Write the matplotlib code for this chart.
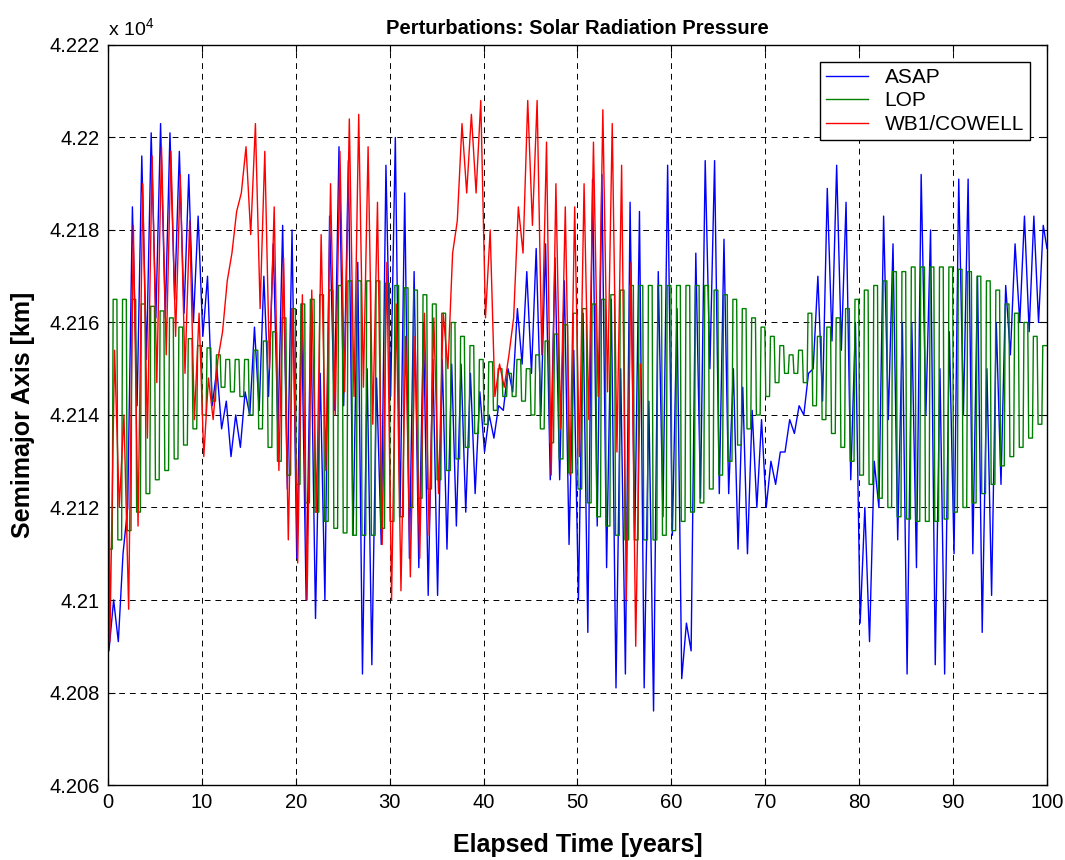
import matplotlib

matplotlib.use("Agg")
import matplotlib.pyplot as plt
import numpy as np

# semimajor axis turning points per year [km]
# LOP: low plateau then high plateau each year
lop_lo = [42111, 42113, 42115, 42119, 42123, 42126, 42128, 42130.5, 42133.5, 42137,
          42140, 42143, 42146, 42145, 42144, 42140, 42137, 42133, 42130, 42127,
          42125, 42121, 42119, 42117, 42115.5, 42114.5, 42114, 42114, 42114, 42115.5,
          42117, 42118, 42120, 42122, 42124, 42126, 42128, 42130.5, 42133, 42136,
          42138, 42141, 42144, 42144, 42143, 42140, 42137, 42134, 42130.5, 42127.5,
          42124, 42121, 42118, 42116, 42114, 42113, 42113, 42113, 42113, 42114,
          42115, 42117, 42119, 42121, 42124, 42127, 42130, 42133.5, 42137, 42140,
          42144, 42147, 42149, 42149, 42147, 42142, 42139, 42136, 42133, 42130,
          42127, 42125, 42122, 42120, 42118, 42117.5, 42117, 42117, 42117, 42117.5,
          42119, 42120, 42121, 42123, 42125, 42129, 42131, 42133, 42135, 42138]
lop_hi = [42165, 42165, 42165, 42164, 42163.5, 42162.5, 42161, 42159, 42156.5, 42155,
          42154.5, 42153, 42152, 42152, 42152, 42154, 42156, 42158, 42161, 42163,
          42164, 42165, 42166, 42167, 42168, 42169, 42169, 42169, 42169, 42168.5,
          42168, 42167.5, 42167, 42166, 42164, 42162, 42160, 42157, 42155, 42152,
          42151.5, 42150, 42149, 42152, 42150, 42153, 42156, 42157.5, 42159.5, 42162,
          42163, 42164, 42165, 42166, 42167, 42168, 42168, 42168, 42168, 42168,
          42168, 42168, 42168, 42168, 42167, 42166, 42165, 42163, 42161, 42159,
          42157, 42155, 42153, 42154, 42162, 42157, 42159, 42161, 42163, 42165,
          42167, 42168, 42169, 42171, 42171, 42172, 42172, 42172, 42172, 42172,
          42171.5, 42171, 42170, 42169, 42167, 42164, 42162, 42160, 42157, 42155]

# ASAP: trough early in the year, peak later
asap_start, asap_end = 42165, 42176
asap_lo = [42089, 42091, 42120, 42142, 42152, 42161, 42161, 42165, 42162, 42160,
           42157, 42142, 42137, 42131, 42133, 42140, 42141, 42144, 42136, 42124,
           42109, 42100, 42096, 42100, 42141, 42142, 42114, 42084, 42086, 42112,
           42144, 42118, 42109, 42107, 42101, 42101, 42111, 42116, 42119, 42123,
           42132, 42135, 42141, 42145, 42151, 42149, 42140, 42126, 42126, 42112,
           42100, 42093, 42116, 42107, 42081, 42084, 42113, 42081, 42076, 42118,
           42114, 42083, 42089, 42122, 42150, 42123, 42123, 42111, 42110, 42120,
           42120, 42125, 42132, 42136, 42140, 42150, 42143, 42156, 42154, 42126,
           42095, 42091, 42120, 42139, 42113, 42084, 42107, 42140, 42086, 42084,
           42110, 42140, 42110, 42093, 42101, 42125, 42153, 42160, 42158, 42160]
asap_hi = [42100, 42110, 42185, 42196, 42201, 42203, 42201, 42197, 42192, 42183,
           42170, 42150, 42143, 42140, 42145, 42159, 42170, 42177, 42181, 42180,
           42164, 42162, 42149, 42183, 42198, 42195, 42173, 42150, 42148, 42194,
           42200, 42188, 42171, 42160, 42152, 42152, 42151, 42151, 42149, 42145,
           42140, 42142, 42150, 42163, 42171, 42176, 42177, 42174, 42169, 42154,
           42162, 42191, 42192, 42165, 42150, 42186, 42184, 42143, 42171, 42194,
           42163, 42095, 42175, 42195, 42195, 42178, 42150, 42146, 42141, 42139,
           42130, 42132, 42139, 42142, 42149, 42170, 42189, 42194, 42186, 42160,
           42120, 42130, 42183, 42177, 42160, 42160, 42192, 42180, 42150, 42158,
           42191, 42191, 42170, 42150, 42160, 42168, 42177, 42183, 42183, 42181]

# WB1/COWELL: run stops after ~57 years
wb1_start = 42173
wb1_lo = [42091, 42120, 42098, 42116, 42135, 42147, 42153, 42157, 42149, 42139,
          42131, 42139, 42158, 42175, 42188, 42179, 42163, 42150, 42128, 42113,
          42108, 42100, 42119, 42128, 42140, 42145, 42144, 42146, 42138, 42112,
          42100, 42102, 42105, 42109, 42114, 42123, 42150, 42182, 42188, 42188,
          42161, 42144, 42146, 42161, 42175, 42181, 42153, 42127, 42137, 42127,
          42131, 42139, 42144, 42145, 42132, 42100, 42090]
wb1_hi = [42154, 42140, 42181, 42190, 42196, 42198, 42197, 42192, 42182, 42162,
          42148, 42152, 42169, 42184, 42198, 42203, 42197, 42185, 42174, 42163,
          42166, 42167, 42179, 42190, 42197, 42204, 42205, 42198, 42186, 42173,
          42164, 42157, 42157, 42162, 42161, 42162, 42175, 42203, 42205, 42208,
          42180, 42151, 42153, 42185, 42208, 42208, 42199, 42190, 42185, 42185,
          42190, 42199, 42206, 42203, 42194, 42173, 42151]

y_ticks = [4.206, 4.208, 4.21, 4.212, 4.214, 4.216, 4.218, 4.22, 4.222]
x_ticks = list(range(0, 101, 10))


def zigzag(lo, hi, t_lo, t_hi, start=None, end=None):
    t, v = [], []
    if start is not None:
        t.append(0.0)
        v.append(start)
    for i, (a, b) in enumerate(zip(lo, hi)):
        t += [i + t_lo, i + t_hi]
        v += [a, b]
    if end is not None:
        t.append(float(len(lo)))
        v.append(end)
    return np.array(t), np.array(v) / 1e4


def steps(lo, hi):
    t, v = [0.0], [lo[0]]
    for i, (a, b) in enumerate(zip(lo, hi)):
        t += [i + 0.05, i + 0.45, i + 0.55, i + 0.95]
        v += [a, a, b, b]
    t.append(float(len(lo)))
    v.append(hi[-1])
    return np.array(t), np.array(v) / 1e4


plt.rcParams['font.family'] = ['Liberation Sans', 'DejaVu Sans']
plt.rcParams['mathtext.default'] = 'regular'

fig = plt.figure(figsize=(10.65, 8.6), dpi=100)
ax = fig.add_axes([0.1014, 0.0872, 0.8817, 0.8605])

t_a, v_a = zigzag(asap_lo, asap_hi, 0.1, 0.6, asap_start, asap_end)
t_l, v_l = steps(lop_lo, lop_hi)
t_w, v_w = zigzag(wb1_lo, wb1_hi, 0.2, 0.7, wb1_start)

ax.plot(t_a, v_a, color='#0000ff', lw=1.0, label='ASAP')
ax.plot(t_l, v_l, color='#008000', lw=1.0, label='LOP')
ax.plot(t_w, v_w, color='#ff0000', lw=1.0, label='WB1/COWELL')

ax.set_xlim(0, 100)
ax.set_ylim(4.206, 4.222)
ax.set_xticks(x_ticks)
ax.set_yticks(y_ticks)
ax.set_yticklabels(['%g' % y for y in y_ticks])
ax.tick_params(direction='in', top=True, right=True, labelsize=14.5, length=5, pad=6)
ax.grid(True, color='k', linestyle=(0, (6, 5)), linewidth=0.7)
for s in ax.spines.values():
    s.set_linewidth(1.0)

ax.set_title('Perturbations: Solar Radiation Pressure', fontsize=14.5,
             fontweight='bold', pad=8)
ax.set_xlabel('Elapsed Time [years]', fontsize=18, fontweight='bold', labelpad=15)
ax.set_ylabel('Semimajor Axis [km]', fontsize=18, fontweight='bold', labelpad=10)
ax.text(0.0, 1.008, r'x 10$^4$', transform=ax.transAxes, fontsize=14,
        ha='left', va='bottom')

leg = ax.legend(loc='upper right', fontsize=15, fancybox=False, framealpha=1,
                edgecolor='k', borderaxespad=0.8, handlelength=2.0,
                handletextpad=0.8, labelspacing=0.22, borderpad=0.3)
leg.get_frame().set_linewidth(1.0)

fig.savefig('out.png', dpi=100)
